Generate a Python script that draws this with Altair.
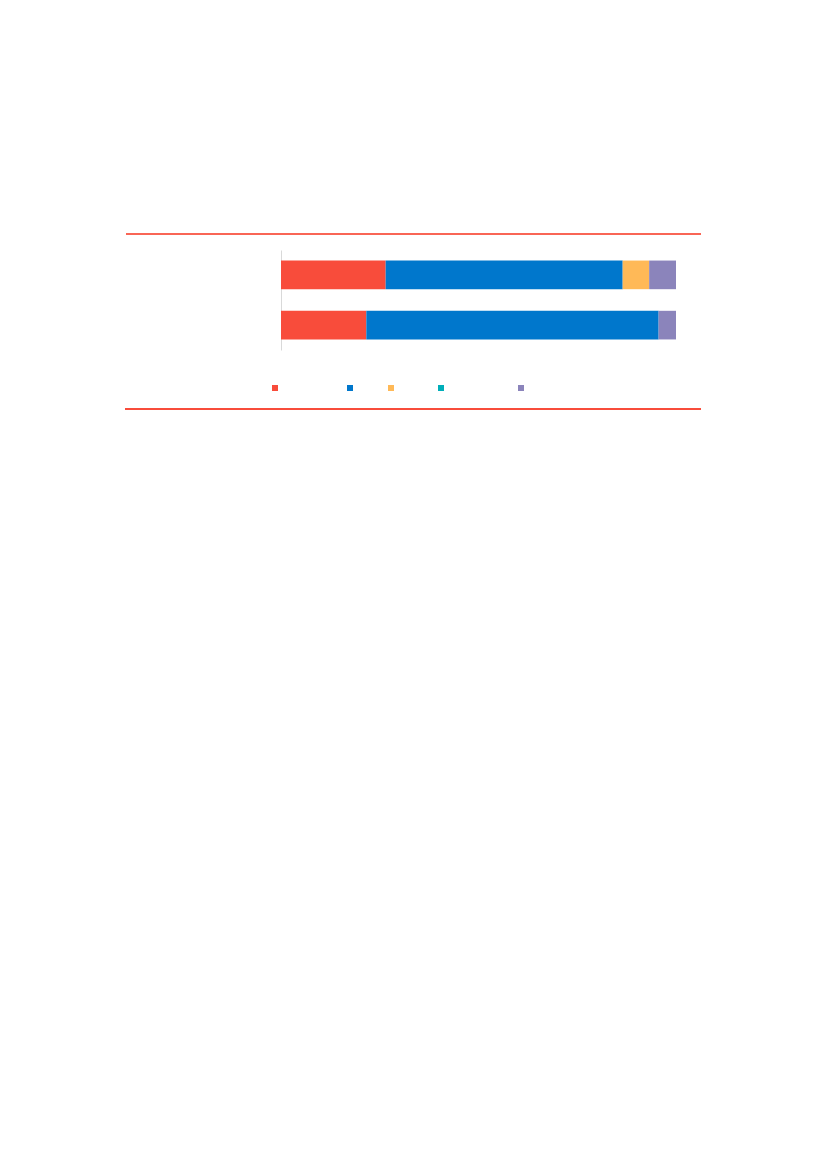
import altair as alt
import pandas as pd

bars = ["Year 1", "Year 2"]
series = ["Employment", "Debt", "Grants", "Capital outlay", "Other"]
colors = ["#F84C3B", "#0077CC", "#FFB957", "#00AEB9", "#8B84BB"]
values_bar1 = [26.5, 60.0, 6.7, 0.0, 6.8]
values_bar2 = [21.6, 74.0, 0.0, 0.0, 4.4]

rows = []
for b, vals in zip(bars, [values_bar1, values_bar2]):
    for i, (s, v) in enumerate(zip(series, vals)):
        rows.append({"bar": b, "series": s, "value": v, "order": i})
df = pd.DataFrame(rows)

base = alt.Chart(df).mark_bar(strokeWidth=0).encode(
    y=alt.Y("bar:N", sort=bars,
            scale=alt.Scale(paddingInner=0.43, paddingOuter=0.21),
            axis=alt.Axis(labels=False, ticks=False, title=None,
                          domainColor="#d9d9d9", domainWidth=1, grid=False)),
    x=alt.X("value:Q", stack="zero", scale=alt.Scale(domain=[0, 100], nice=False),
            axis=None),
    color=alt.Color("series:N", sort=series,
                    scale=alt.Scale(domain=series, range=colors),
                    legend=alt.Legend(orient="none", direction="horizontal",
                                      legendX=-11, legendY=133, title=None,
                                      symbolType="square", symbolSize=36,
                                      symbolStrokeWidth=0, labelFontSize=10,
                                      labelFont="Liberation Sans",
                                      labelOpacity=0, labelOffset=4,
                                      columnPadding=5, padding=0,
                                      columns=5)),
    order=alt.Order("order:Q"),
)

one = alt.Data(values=[{}])
top_rule = alt.Chart(one).mark_rule(color="#F96656", strokeWidth=2).encode(
    x=alt.value(-155), x2=alt.value(420), y=alt.value(-16))
bottom_rule = alt.Chart(one).mark_rule(color="#F84C3B", strokeWidth=2).encode(
    x=alt.value(-156), x2=alt.value(420), y=alt.value(159))

chart = alt.layer(top_rule, bottom_rule, base).properties(
    width=395, height=100,
    background="white",
    autosize=alt.AutoSizeParams(type="none"),
    padding={"left": 273, "top": 242, "right": 40, "bottom": 200},
).configure_view(stroke="transparent", strokeWidth=0)

chart.save("out.html", embed_options={"renderer": "svg", "actions": False})
